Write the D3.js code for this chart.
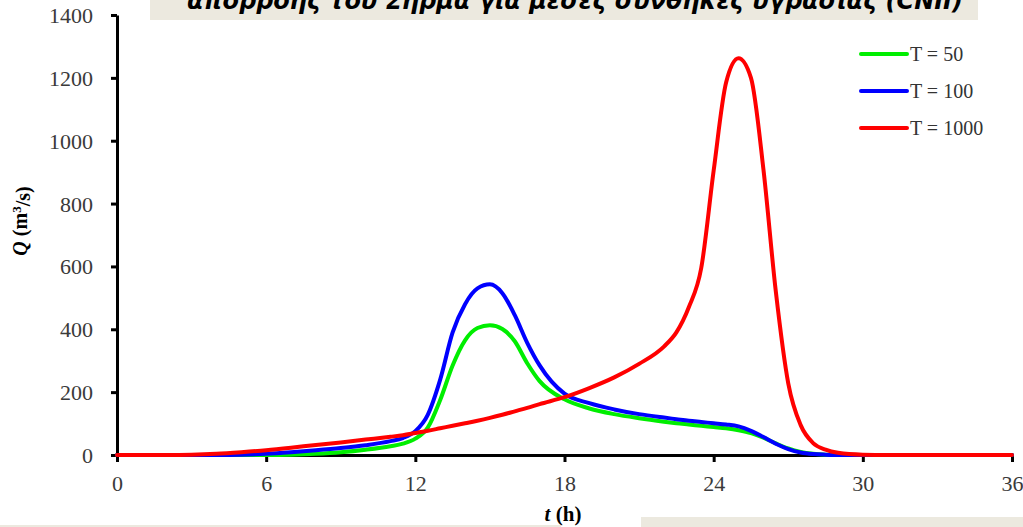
<!DOCTYPE html>
<html>
<head>
<meta charset="utf-8">
<script src="https://cdn.jsdelivr.net/npm/d3@7"></script>
<style>
  html, body { margin: 0; padding: 0; background: #ffffff; }
  svg { display: block; }
</style>
</head>
<body>
<svg id="chart" width="1023" height="527"></svg>
<script>
// ---- Data ----
const titleText = "απορροής του Σηρμά για μέσες συνθήκες υγρασίας (CNII)";
const hours = [0,1,2,3,4,5,6,7,8,9,10,11,
  11.5,12,12.5,13,13.5,14,14.5,15,15.5,16,16.5,17,
  18,19,20,21,22,
  22.5,23,23.5,24,24.5,25,25.5,26,26.5,27,27.5,28,28.5,29,
  30,31,32,33,34,35,36];
const q50 = [0,0,0,0,0,0,0,1,4,9,17,28,
  36,52,87,175,285,365,404,413,401,362,292,235,
  177,148,130,117,106,
  101,97,93,89,85,79,70,55,37,21,10,4,1,0,
  0,0,0,0,0,0,0];
const q100 = [0,0,0,0,0,1,4,9,15,22,31,44,
  54,76,128,240,390,480,530,543,515,445,357,285,
  195,165,145,130,119,
  114,109,105,101,97,91,77,57,36,19,8,3,1,0,
  0,0,0,0,0,0,0];
const q1000 = [0,0,0,1,4,9,15,23,32,40,49,58,
  63,70,77,85,93,101,109,118,128,139,150,162,
  184,213,247,290,345,
  390,470,595,905,1185,1262,1200,910,520,228,95,38,17,7,
  1,0,0,0,0,0,0];
const seriesNames = ["T = 50", "T = 100", "T = 1000"];
const seriesValues = [q50, q100, q1000];
const seriesColors = ["#00ee00", "#0000ff", "#ff0000"];
const xTicks = [0, 6, 12, 18, 24, 30, 36];
const yTicks = [0, 200, 400, 600, 800, 1000, 1200, 1400];

// ---- Drawing ----
const svg = d3.select("#chart");
const x = d3.scaleLinear().domain([0, 36]).range([117, 1012]);
const y = d3.scaleLinear().domain([0, 1400]).range([455, 15]);

// Beige decoration boxes (slide background fragments)
svg.append("rect").attr("x", 150).attr("y", 0).attr("width", 828).attr("height", 20).attr("fill", "#ece9df");
svg.append("rect").attr("x", 0).attr("y", 525).attr("width", 561).attr("height", 2).attr("fill", "#ece9df");
svg.append("rect").attr("x", 641).attr("y", 517).attr("width", 382).attr("height", 10).attr("fill", "#ece9df");

// Title (cut at the top edge, as in the reference)
svg.append("text")
  .attr("x", 187).attr("y", 9)
  .attr("textLength", 776).attr("lengthAdjust", "spacingAndGlyphs")
  .style("font-family", "'DejaVu Sans', sans-serif")
  .style("font-weight", "bold").style("font-style", "italic")
  .style("font-size", "25px").attr("fill", "#000")
  .text(titleText);

const tickFont = "'Liberation Serif', 'Times New Roman', serif";

// Y axis
const yAxis = svg.append("g").attr("transform", "translate(117,0)")
  .call(d3.axisLeft(y).tickValues(yTicks).tickSize(6).tickSizeOuter(0).tickFormat(d3.format("d")));
yAxis.select(".domain").attr("stroke", "#000").attr("stroke-width", 3);
yAxis.selectAll(".tick line").attr("stroke", "#000").attr("stroke-width", 3);
yAxis.selectAll(".tick text")
  .attr("x", -24).attr("dy", "0.34em")
  .style("font-family", tickFont).style("font-size", "22px").attr("fill", "#3a3a3a");

// X axis
const xAxis = svg.append("g").attr("transform", "translate(0,455)")
  .call(d3.axisBottom(x).tickValues(xTicks).tickSize(7).tickSizeOuter(0).tickFormat(d3.format("d")));
xAxis.select(".domain").attr("stroke", "#000").attr("stroke-width", 3);
xAxis.selectAll(".tick line").attr("stroke", "#000").attr("stroke-width", 3);
xAxis.selectAll(".tick text")
  .attr("y", 36).attr("dy", 0)
  .style("font-family", tickFont).style("font-size", "22px").attr("fill", "#3a3a3a");

// Axis titles
const xt = svg.append("text").attr("x", 563).attr("y", 521).attr("text-anchor", "middle")
  .style("font-family", tickFont).style("font-size", "21px").style("font-weight", "bold").attr("fill", "#000");
xt.append("tspan").style("font-style", "italic").text("t");
xt.append("tspan").text(" (h)");

const yt = svg.append("text").attr("transform", "translate(27,221) rotate(-90)").attr("text-anchor", "middle")
  .style("font-family", tickFont).style("font-size", "20px").style("font-weight", "bold").attr("fill", "#000");
yt.append("tspan").style("font-style", "italic").text("Q");
yt.append("tspan").text(" (m");
yt.append("tspan").attr("dy", "-0.45em").style("font-size", "13px").text("3");
yt.append("tspan").attr("dy", "0.45em").text("/s)");

// Lines
const line = d3.line()
  .x((d, i) => x(hours[i]))
  .y(d => y(d))
  .curve(d3.curveMonotoneX);

svg.append("g").selectAll("path").data(seriesValues).join("path")
  .attr("d", d => line(d))
  .attr("fill", "none")
  .attr("stroke", (d, i) => seriesColors[i])
  .attr("stroke-width", 4)
  .attr("stroke-linejoin", "round")
  .attr("stroke-linecap", "round");

// Legend
const legend = svg.append("g");
seriesNames.forEach((name, i) => {
  const ly = 54 + i * 37;
  legend.append("line")
    .attr("x1", 861).attr("x2", 907).attr("y1", ly).attr("y2", ly)
    .attr("stroke", seriesColors[i]).attr("stroke-width", 4).attr("stroke-linecap", "round");
  legend.append("text").attr("x", 910).attr("y", ly + 7)
    .style("font-family", tickFont).style("font-size", "20px").attr("fill", "#333")
    .text(name);
});
</script>
</body>
</html>
